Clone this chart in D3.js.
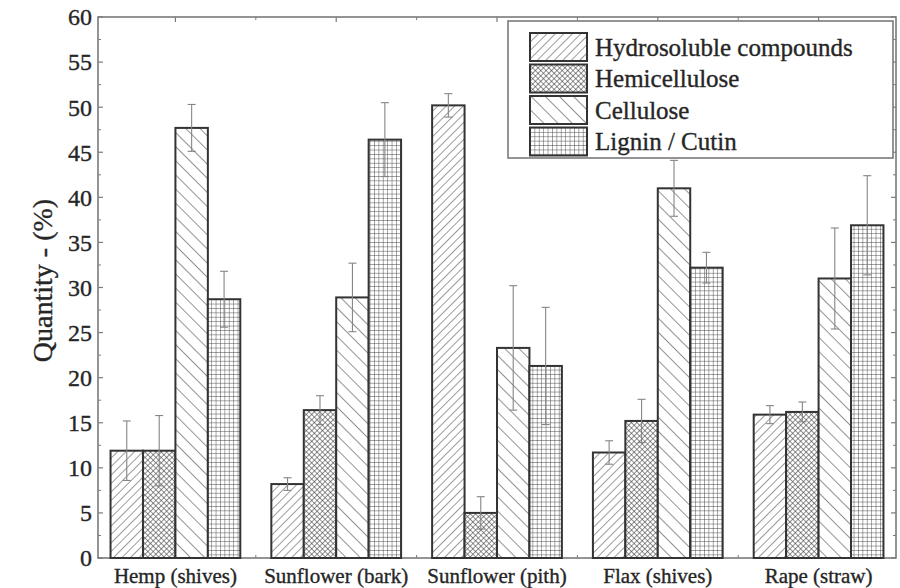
<!DOCTYPE html>
<html>
<head>
<meta charset="utf-8">
<script src="https://cdn.jsdelivr.net/npm/d3@7"></script>
<style>
  html, body { margin: 0; padding: 0; background: #fff; }
  svg { display: block; }
</style>
</head>
<body>
<svg id="chart" width="900" height="588" font-family="'Liberation Serif', 'Times New Roman', 'DejaVu Serif', serif"></svg>
<script>
// ---- data ----
const categories = ["Hemp (shives)", "Sunflower (bark)", "Sunflower (pith)", "Flax (shives)", "Rape (straw)"];
const seriesNames = ["Hydrosoluble compounds", "Hemicellulose", "Cellulose", "Lignin / Cutin"];
const hydrosoluble = [11.9, 8.2, 50.2, 11.7, 15.9];
const hemicellulose = [11.9, 16.4, 5.0, 15.2, 16.2];
const cellulose = [47.7, 28.9, 23.3, 41.0, 31.0];
const lignin = [28.7, 46.4, 21.3, 32.2, 36.9];
const hydrosolubleErr = [3.3, 0.7, 1.3, 1.3, 1.0];
const hemicelluloseErr = [3.9, 1.6, 1.8, 2.4, 1.1];
const celluloseErr = [2.6, 3.8, 6.9, 3.1, 5.6];
const ligninErr = [3.1, 4.1, 6.5, 1.7, 5.5];
const yTicks = [0, 5, 10, 15, 20, 25, 30, 35, 40, 45, 50, 55, 60];
const yLabel = "Quantity - (%)";

const values = [hydrosoluble, hemicellulose, cellulose, lignin];
const errors = [hydrosolubleErr, hemicelluloseErr, celluloseErr, ligninErr];

// ---- layout ----
const svg = d3.select("#chart");
const fontFam = "'Liberation Serif', 'Times New Roman', 'DejaVu Serif', serif";
const textColor = "#262626";
const mLeft = 98, mRight = 896, mTop = 17, mBottom = 558;
const axisColor = "#7a7a7a";
const ink = "#3a3a3a";

const x0 = d3.scaleBand().domain(categories).range([mLeft, mRight])
  .paddingInner(0.193).paddingOuter(0.078);
const x1 = d3.scaleBand().domain(seriesNames).range([0, x0.bandwidth()]).padding(0);
const y = d3.scaleLinear().domain([0, 60]).range([mBottom, mTop]);

// ---- patterns ----
const defs = svg.append("defs");
function linePattern(id, size, angle, sw, cross) {
  const p = defs.append("pattern").attr("id", id)
    .attr("patternUnits", "userSpaceOnUse")
    .attr("width", size).attr("height", size)
    .attr("patternTransform", `rotate(${angle})`);
  p.append("rect").attr("width", size).attr("height", size).attr("fill", "#fff");
  p.append("line").attr("x1", 0).attr("y1", 0).attr("x2", 0).attr("y2", size)
    .attr("stroke", ink).attr("stroke-width", sw);
  if (cross) {
    p.append("line").attr("x1", 0).attr("y1", 0).attr("x2", size).attr("y2", 0)
      .attr("stroke", ink).attr("stroke-width", sw);
  }
}
linePattern("pHydro", 6, 45, 1.0, false);
linePattern("pHemi", 3.8, 45, 1.1, true);
linePattern("pCell", 10, -45, 1.1, false);
linePattern("pLig", 4.4, 0, 0.9, true);
const fills = ["url(#pHydro)", "url(#pHemi)", "url(#pCell)", "url(#pLig)"];

// ---- frame & axes ----
const frame = svg.append("g");
frame.append("rect").attr("x", mLeft).attr("y", mTop)
  .attr("width", mRight - mLeft).attr("height", mBottom - mTop)
  .attr("fill", "none").attr("stroke", axisColor).attr("stroke-width", 1.6);

const minorY = d3.range(2.5, 60, 5);
frame.selectAll(".ly").data(yTicks).join("line")
  .attr("x1", mLeft).attr("x2", mLeft + 5).attr("y1", d => y(d)).attr("y2", d => y(d))
  .attr("stroke", axisColor).attr("stroke-width", 1.2);
frame.selectAll(".lym").data(minorY).join("line")
  .attr("x1", mLeft).attr("x2", mLeft + 3).attr("y1", d => y(d)).attr("y2", d => y(d))
  .attr("stroke", axisColor).attr("stroke-width", 1);
frame.selectAll(".ry").data(yTicks).join("line")
  .attr("x1", mRight).attr("x2", mRight - 5).attr("y1", d => y(d)).attr("y2", d => y(d))
  .attr("stroke", axisColor).attr("stroke-width", 1.2);
frame.selectAll(".rym").data(minorY).join("line")
  .attr("x1", mRight).attr("x2", mRight - 3).attr("y1", d => y(d)).attr("y2", d => y(d))
  .attr("stroke", axisColor).attr("stroke-width", 1);
const centers = categories.map(c => x0(c) + x0.bandwidth() / 2);
const bounds = categories.slice(1).map(c => x0(c) - x0.step() * x0.paddingInner() / 2);
frame.selectAll(".tx").data(centers).join("line")
  .attr("x1", d => d).attr("x2", d => d).attr("y1", mTop).attr("y2", mTop + 5)
  .attr("stroke", axisColor).attr("stroke-width", 1.2);
frame.selectAll(".txm").data(bounds).join("line")
  .attr("x1", d => d).attr("x2", d => d).attr("y1", mTop).attr("y2", mTop + 3)
  .attr("stroke", axisColor).attr("stroke-width", 1);
frame.selectAll(".bxm").data(bounds).join("line")
  .attr("x1", d => d).attr("x2", d => d).attr("y1", mBottom).attr("y2", mBottom - 3)
  .attr("stroke", axisColor).attr("stroke-width", 1);

function styleText(sel, size) {
  return sel.attr("font-size", size).attr("font-family", fontFam)
    .attr("fill", textColor).attr("stroke", textColor).attr("stroke-width", 0.35);
}

styleText(svg.append("g").selectAll("text").data(yTicks).join("text")
  .attr("x", mLeft - 6).attr("y", d => y(d)).attr("dy", "0.35em")
  .attr("text-anchor", "end"), 24).text(d => d);

styleText(svg.append("text")
  .attr("transform", `translate(42,${(mTop + mBottom) / 2 - 7}) rotate(-90)`)
  .attr("text-anchor", "middle").attr("dy", "0.35em"), 28)
  .text(yLabel);

styleText(svg.append("g").selectAll("text").data(categories).join("text")
  .attr("x", d => x0(d) + x0.bandwidth() / 2).attr("y", 583)
  .attr("text-anchor", "middle"), 21).text(d => d);

// ---- bars ----
const barData = [];
categories.forEach((c, i) => {
  seriesNames.forEach((s, j) => {
    barData.push({ cat: c, ser: s, j, v: values[j][i], e: errors[j][i] });
  });
});

svg.append("g").selectAll("rect").data(barData).join("rect")
  .attr("x", d => x0(d.cat) + x1(d.ser))
  .attr("y", d => y(d.v))
  .attr("width", x1.bandwidth())
  .attr("height", d => y(0) - y(d.v))
  .attr("fill", d => fills[d.j])
  .attr("stroke", "#333").attr("stroke-width", 2);

const eg = svg.append("g").attr("stroke", "#858585").attr("stroke-width", 1.1);
const capW = 4;
barData.forEach(d => {
  const cx = x0(d.cat) + x1(d.ser) + x1.bandwidth() / 2;
  eg.append("line").attr("x1", cx).attr("x2", cx)
    .attr("y1", y(d.v + d.e)).attr("y2", y(d.v - d.e));
  eg.append("line").attr("x1", cx - capW).attr("x2", cx + capW)
    .attr("y1", y(d.v + d.e)).attr("y2", y(d.v + d.e));
  eg.append("line").attr("x1", cx - capW).attr("x2", cx + capW)
    .attr("y1", y(d.v - d.e)).attr("y2", y(d.v - d.e));
});

// ---- legend ----
const lg = svg.append("g");
lg.append("rect").attr("x", 508).attr("y", 21).attr("width", 385).attr("height", 137)
  .attr("fill", "#fff").attr("stroke", axisColor).attr("stroke-width", 1.6);
const rowH = 31.5;
const items = lg.selectAll("g.item").data(seriesNames).join("g")
  .attr("transform", (d, i) => `translate(530,${33 + i * rowH})`);
items.append("rect").attr("width", 57).attr("height", 28)
  .attr("fill", (d, i) => fills[i]).attr("stroke", "#333").attr("stroke-width", 2);
styleText(items.append("text").attr("x", 65).attr("y", 14).attr("dy", "0.35em"), 25)
  .text(d => d);
</script>
</body>
</html>
